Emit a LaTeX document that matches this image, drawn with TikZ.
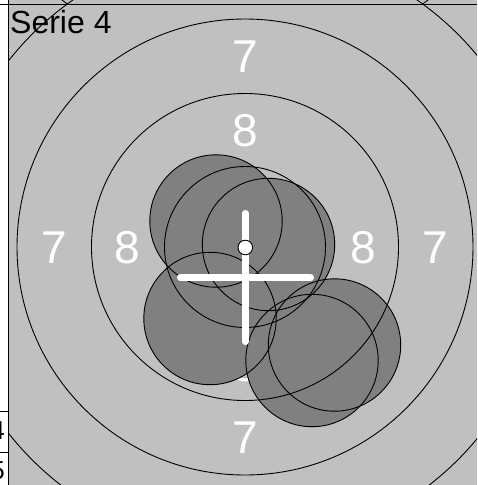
\documentclass[tikz,border=0pt]{standalone}
\usepackage{fontspec}
\setmainfont{Liberation Sans}
\definecolor{bg}{HTML}{C0C0C0}
\definecolor{shotgrey}{HTML}{808080}
\begin{document}
\begin{tikzpicture}[x=1pt,y=-1pt,
  ringline/.style={black,line width=0.9pt},
  shotline/.style={black,line width=0.9pt},
  frameline/.style={black,line width=1.2pt},
  ringlabel/.style={white,font=\fontsize{46}{46}\selectfont,anchor=base,inner sep=0pt},
  sidelabel/.style={black,font=\fontsize{26}{26}\selectfont,anchor=base east,inner sep=0pt},
  crossline/.style={white,line width=6.7pt,line cap=round}]
\useasboundingbox (0,0) rectangle (477,485);
\begin{scope}
\clip (0,0) rectangle (477,485);
% background
\fill[bg] (8.5,0) rectangle (477,485);
% ring of the panel above
\begin{scope}
\clip (8.5,0) rectangle (477,4.3);
\draw[ringline] (245,-239) circle[radius=301pt];
\end{scope}
% ring labels
\node[ringlabel] (l7t) at (245,72.5) {7};
\node[ringlabel] (l7l) at (54,263) {7};
\node[ringlabel] (l7r) at (435,263) {7};
\node[ringlabel] (l7b) at (245,453.5) {7};
\node[ringlabel] (l8t) at (245,146) {8};
\node[ringlabel] (l8l) at (127,263) {8};
\node[ringlabel] (l8r) at (363,263) {8};
\node[ringlabel] (l8b) at (245,381.5) {8};
% shot fills
\foreach \p in {(216,221),(268.5,244.5),(210,318.5),(334.5,345),(312,360.5)}
  \fill[shotgrey] \p circle[radius=66.2pt];
% rings
\foreach \r in {80.5,153.5,228,301}
  \draw[ringline] (245,247) circle[radius=\r pt];
% shot outlines
\foreach \p in {(216,221),(268.5,244.5),(210,318.5),(334.5,345),(312,360.5)}
  \draw[shotline] \p circle[radius=66.2pt];
% crosshair
\coordinate (cv1) at (245.3,213.3);
\coordinate (cv2) at (245.3,341.7);
\coordinate (ch1) at (180.3,277.7);
\coordinate (ch2) at (310.7,277.7);
\draw[crossline] (cv1) -- (cv2);
\draw[crossline] (ch1) -- (ch2);
% centre dot
\draw[fill=white,line width=0.9pt] (245.3,247.5) circle[radius=7.3pt];
% title
\node[anchor=base west,inner sep=0pt,font=\fontsize{32}{32}\selectfont] (title) at (10,33.3) {Serie 4};
% left table
\fill[white] (0,0) rectangle (8.5,485);
\draw[frameline] (8.5,0) -- (8.5,485);
\draw[frameline] (0,4.3) -- (477,4.3);
\draw[black,line width=0.9pt] (0,411) -- (8.5,411);
\draw[black,line width=0.9pt] (0,452) -- (8.5,452);
\node[sidelabel] (s4) at (5,439.3) {4};
\node[sidelabel] (s5) at (5,479.6) {5};
\end{scope}
\end{tikzpicture}
\end{document}
